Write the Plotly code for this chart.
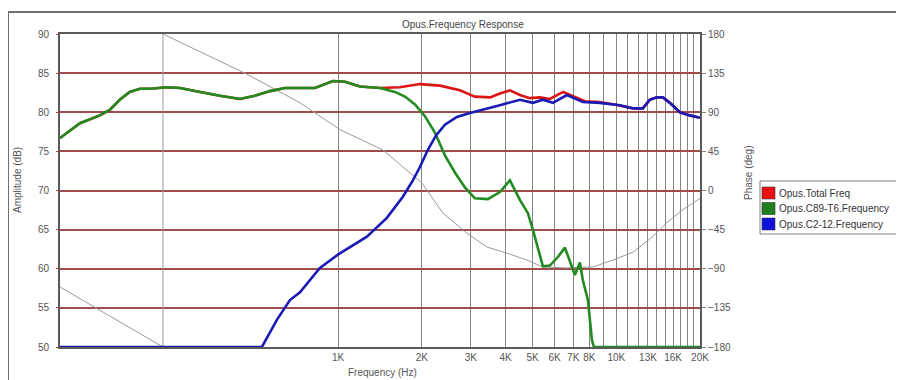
import plotly.graph_objects as go

# ---------------- data ----------------
green_freq = [100, 118, 139, 151, 164, 178, 194, 211, 242, 270, 319, 376, 444, 502, 569, 644,
              729, 825, 958, 1058, 1198, 1414, 1600, 1739, 1889, 2051, 2228, 2421, 2629, 2856,
              3102, 3456, 3816, 4145, 4503, 4811, 5013, 5314, 5448, 5772, 6167, 6536, 6812,
              7100, 7400, 7586, 7907, 8174, 8310, 20000]
green_db = [76.7, 78.6, 79.6, 80.3, 81.6, 82.6, 83.0, 83.0, 83.2, 83.1, 82.6, 82.1, 81.7, 82.1,
            82.7, 83.1, 83.1, 83.1, 84.0, 83.9, 83.3, 83.1, 82.6, 82.0, 81.0, 79.5, 77.4, 74.5,
            72.3, 70.4, 69.0, 68.9, 69.8, 71.3, 68.8, 67.1, 65.0, 61.8, 60.3, 60.4, 61.5, 62.7,
            60.8, 59.2, 60.8, 58.5, 56.0, 50.9, 50.0, 50.0]

red_freq = [100, 118, 139, 151, 164, 178, 194, 211, 242, 270, 319, 376, 444, 502, 569, 644,
            729, 825, 958, 1058, 1198, 1414, 1667, 1968, 2323, 2741, 3102, 3520, 3816, 4145,
            4503, 4887, 5314, 5772, 6438, 7100, 7714, 8706, 9859, 11474, 12464, 13207, 13992,
            14706, 15581, 16923, 18393, 20000]
red_db = [76.7, 78.6, 79.6, 80.3, 81.6, 82.6, 83.0, 83.0, 83.2, 83.1, 82.6, 82.1, 81.7, 82.1,
          82.7, 83.1, 83.1, 83.1, 84.0, 83.9, 83.3, 83.1, 83.2, 83.6, 83.4, 82.8, 82.0, 81.9,
          82.4, 82.8, 82.2, 81.8, 81.9, 81.7, 82.6, 81.9, 81.4, 81.3, 81.0, 80.5, 80.5, 81.6,
          81.9, 81.9, 81.2, 80.0, 79.6, 79.3]

blue_freq = [100, 532, 603, 671, 729, 860, 998, 1269, 1497, 1709, 1857, 1968, 2102, 2246, 2421,
             2673, 2977, 3315, 3816, 4503, 5013, 5448, 5917, 6643, 7586, 8706, 10301, 11474,
             12464, 13207, 13992, 14706, 15581, 16923, 18393, 20000]
blue_db = [50.0, 50.0, 53.5, 56.0, 57.0, 60.1, 61.8, 64.1, 66.5, 69.2, 71.3, 73.0, 75.2, 77.0,
           78.4, 79.4, 79.9, 80.3, 80.9, 81.6, 81.2, 81.6, 81.2, 82.2, 81.3, 81.2, 80.9, 80.5,
           80.5, 81.6, 81.9, 81.9, 81.2, 80.0, 79.6, 79.3]

phase_freq = [100, 151, 234.5, 234.5, 462, 729, 1015, 1449, 2001, 2380, 2904, 3427, 4045, 4772,
              5448, 6643, 8239, 9723, 11474, 13535, 15200, 17355, 20000]
phase_deg = [-111, -144, -180, 180, 135, 101, 70, 46.6, 8.6, -26, -49, -65, -72, -80, -88, -89,
             -88, -80, -71, -53, -37, -22, -9]

series_names = ["Opus.Total Freq", "Opus.C89-T6.Frequency", "Opus.C2-12.Frequency"]
series_colors = ["#dd1414", "#218a21", "#1a1ab4"]
swatch_colors = ["#e81010", "#1f7f1f", "#1010d8"]

grid_freqs = [k * 1000 for k in range(1, 21)]
labelled = {1: "1K", 2: "2K", 3: "3K", 4: "4K", 5: "5K", 6: "6K", 7: "7K", 8: "8K",
            10: "10K", 13: "13K", 16: "16K", 20: "20K"}
grid_text = [labelled.get(k, "") for k in range(1, 21)]

db_ticks = [50, 55, 60, 65, 70, 75, 80, 85, 90]
deg_ticks = [-180, -135, -90, -45, 0, 45, 90, 135, 180]

# ---------------- figure ----------------
# page body has an 8px margin, so the figure is drawn 8px smaller and offset
OFF = 8
W, H = 904 - OFF, 380 - OFF
PL, PR, PT, PB = 60, 700, 34, 347          # plot area in reference pixels
L, R, T, B = PL - OFF, W - (PR - OFF), PT - OFF, H - (PB - OFF)
PW, PH = PR - PL, PB - PT


def xp(px):
    return (px - PL) / PW


def yp(py):
    return (PB - py) / PH


fig = go.Figure()

# phase on base axis (drawn beneath amplitude curves)
fig.add_trace(go.Scatter(x=phase_freq, y=phase_deg, mode="lines", yaxis="y",
                         line=dict(color="#9a9a9a", width=1), showlegend=False,
                         name="Phase"))

for f, v, nm, col in zip([red_freq, green_freq, blue_freq], [red_db, green_db, blue_db],
                         series_names, series_colors):
    fig.add_trace(go.Scatter(x=f, y=v, mode="lines", yaxis="y2", name=nm,
                             line=dict(color=col, width=2.6), showlegend=False))

font_fam = "Liberation Sans, Arial, sans-serif"
tick_font = dict(family=font_fam, size=10, color="#555555")

fig.update_layout(
    width=W, height=H, autosize=False,
    margin=dict(l=L, r=R, t=T, b=B, pad=0),
    paper_bgcolor="white", plot_bgcolor="white",
    font=dict(family=font_fam, size=10, color="#555555"),
    showlegend=False,
    xaxis=dict(type="log", range=[2, 4.30103], tickvals=grid_freqs, ticktext=grid_text,
               showgrid=True, gridcolor="#858585", gridwidth=1.2,
               showline=True, linecolor="#5a5a5a", linewidth=2, mirror=True,
               ticks="", tickfont=tick_font, zeroline=False, layer="below traces"),
    yaxis=dict(range=[-180, 180], tickvals=deg_ticks, side="right",
               showgrid=True, gridcolor="#a04c4c", gridwidth=1.5,
               showline=True, linecolor="#5a5a5a", linewidth=2, mirror=True,
               ticks="outside", ticklen=4, tickcolor="#888888",
               tickfont=tick_font, zeroline=False, layer="below traces"),
    yaxis2=dict(range=[50, 90], tickvals=db_ticks, side="left", overlaying="y",
                showgrid=False, showline=False, ticks="outside", ticklen=3,
                tickcolor="#a04c4c", tickfont=tick_font, zeroline=False,
                ticklabelstandoff=5),
)

ann = []
ann.append(dict(text="Opus.Frequency Response", x=xp(463), y=yp(24), xref="paper", yref="paper",
                showarrow=False, font=dict(size=10, color="#444444"), xanchor="center",
                yanchor="middle"))
ann.append(dict(text="Amplitude (dB)", x=xp(18), y=yp(180), xref="paper", yref="paper",
                showarrow=False, textangle=-90, font=dict(size=10, color="#555555"),
                xanchor="center", yanchor="middle"))
ann.append(dict(text="Phase (deg)", x=xp(748), y=yp(173), xref="paper", yref="paper",
                showarrow=False, textangle=-90, font=dict(size=10, color="#555555"),
                xanchor="center", yanchor="middle"))
ann.append(dict(text="Frequency (Hz)", x=xp(382), y=yp(372), xref="paper", yref="paper",
                showarrow=False, font=dict(size=10, color="#555555"),
                xanchor="center", yanchor="middle"))

shapes = []
# outer panel frame
shapes.append(dict(type="rect", xref="paper", yref="paper", x0=xp(8), y0=yp(420), x1=xp(960),
                   y1=yp(12), line=dict(color="#707070", width=2), fillcolor="rgba(0,0,0,0)",
                   layer="below"))
# legend box
shapes.append(dict(type="rect", xref="paper", yref="paper", x0=xp(760), y0=yp(234), x1=xp(960),
                   y1=yp(181), line=dict(color="#808080", width=1), fillcolor="white"))
row_y = [193, 208.5, 224]
for nm, col, ry in zip(series_names, swatch_colors, row_y):
    shapes.append(dict(type="rect", xref="paper", yref="paper", x0=xp(762), x1=xp(775),
                       y0=yp(ry + 6), y1=yp(ry - 6), fillcolor=col,
                       line=dict(color="#333333", width=0.6)))
    ann.append(dict(text=nm, x=xp(777), y=yp(ry), xref="paper", yref="paper", showarrow=False,
                    xanchor="left", yanchor="middle", font=dict(size=10, color="#333333")))

fig.update_layout(annotations=ann, shapes=shapes)

fig.write_html("out.html")
